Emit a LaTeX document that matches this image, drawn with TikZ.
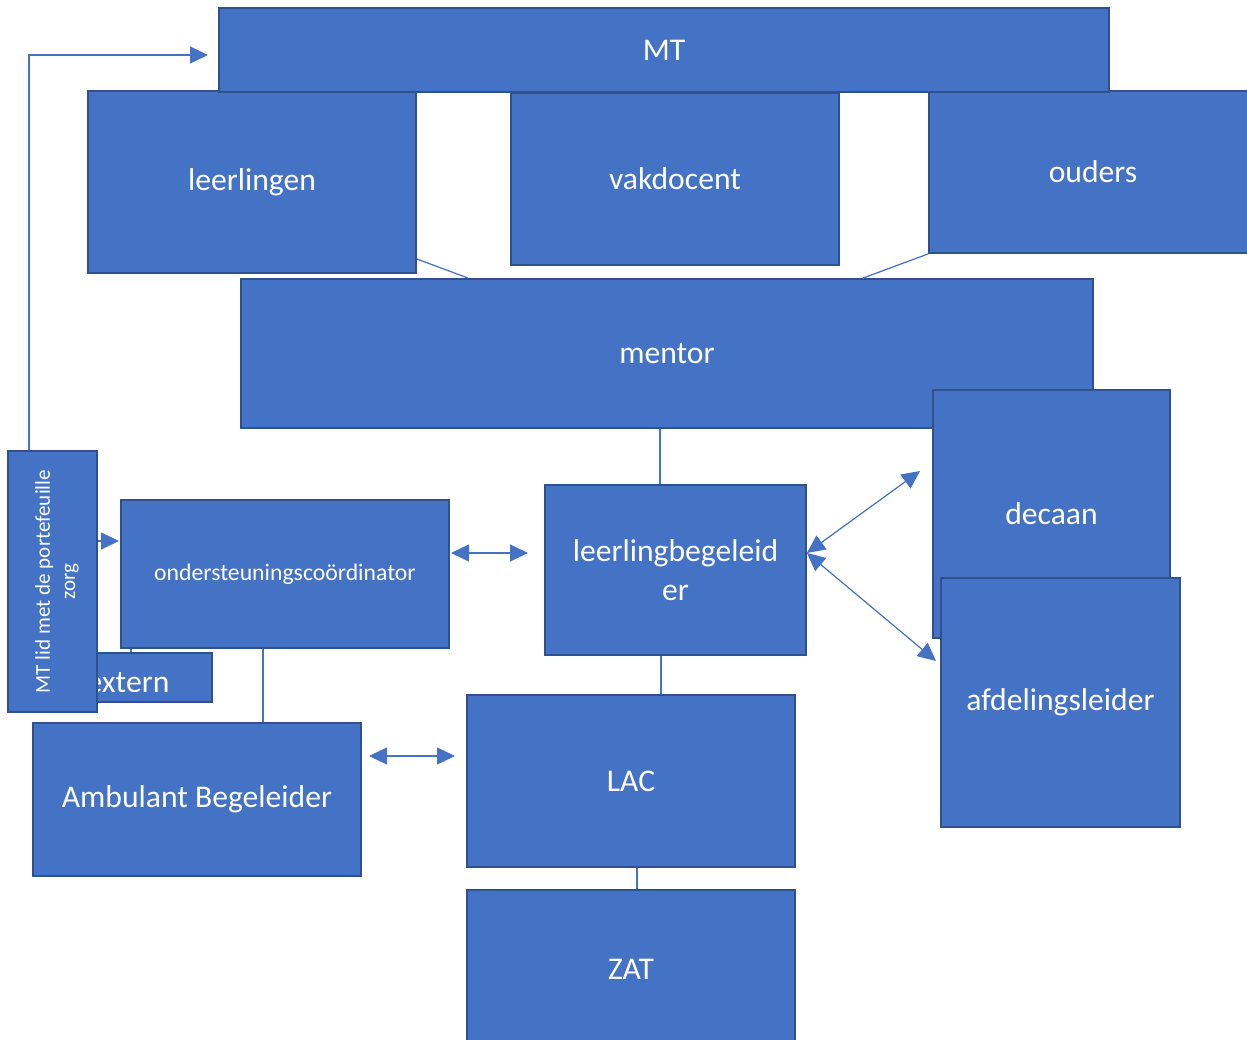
\documentclass[tikz,border=0pt]{standalone}
\usepackage{fontspec}
\setmainfont{Carlito}
\usetikzlibrary{arrows.meta}
\definecolor{blokblauw}{HTML}{4472C4}
\definecolor{blokrand}{HTML}{2F528F}
\tikzset{
  blok/.style={draw=blokrand, fill=blokblauw, line width=1.1pt, text=white,
    font=\fontsize{18}{22}\selectfont, inner sep=0pt},
  lijn/.style={draw=blokblauw, line width=0.7pt},
  pijl/.style={lijn, -{Triangle[length=0.36cm,width=0.34cm]}},
  dubbel/.style={lijn, {Triangle[length=0.36cm,width=0.34cm]}-{Triangle[length=0.36cm,width=0.34cm]}}
}
\begin{document}
\begin{tikzpicture}[x=0.02cm, y=-0.02cm]
    \useasboundingbox (0,0) rectangle (1247,1040);
    \node (leerlingen) at (252,182) [blok, minimum width=6.56cm, minimum height=3.64cm] {leerlingen};
    \node (vakdocent) at (675,179) [blok, minimum width=6.56cm, minimum height=3.44cm] {vakdocent};
    \node (ouders) at (1093,172) [blok, minimum width=6.56cm, minimum height=3.24cm] {ouders};
    \node (MT) at (664,50) [blok, minimum width=17.8cm, minimum height=1.68cm] {MT};
    \node (mentor) at (667,353.5) [blok, minimum width=17.04cm, minimum height=2.98cm] {mentor};
    \node (decaan) at (1051.5,514) [blok, minimum width=4.74cm, minimum height=4.96cm] {decaan};
    \node (afdeling) at (1060.5,702.5) [blok, minimum width=4.78cm, minimum height=4.98cm] {afdelingsleider};
    \node (lb) at (675.5,570) [blok, minimum width=5.22cm, minimum height=3.4cm, align=center] {leerlingbegeleid\\er};
    \node (osc) at (285,574) [blok, minimum width=6.56cm, minimum height=2.96cm, font=\fontsize{13.5}{16}\selectfont] {ondersteuningscoördinator};
    \node (extern) at (128.5,677.5) [blok, minimum width=3.34cm, minimum height=0.98cm] {};
    \begin{scope}
      \clip (60,655) rectangle (210,691);
      \node (externtekst) at (128,692) [anchor=base, text=white, font=\fontsize{18}{22}\selectfont, inner sep=0pt] {extern};
    \end{scope}
    \node (mtlid) at (52.5,581.5) [blok, minimum width=1.78cm, minimum height=5.22cm] {};
    \node (mtlidtekst) at (57,581.5) [rotate=90, align=center, text=white, font=\fontsize{12}{14.5}\selectfont] {MT lid met de portefeuille\\zorg};
    \node (ambulant) at (197,799.5) [blok, minimum width=6.56cm, minimum height=3.06cm] {Ambulant Begeleider};
    \node (LAC) at (631,781) [blok, minimum width=6.56cm, minimum height=3.44cm] {LAC};
    \node (ZAT) at (631,969) [blok, minimum width=6.56cm, minimum height=3.16cm] {ZAT};
    \coordinate (mtin) at (208,55);
    \coordinate (oscin) at (119,541);
    \coordinate (oscuit) at (451,553);
    \coordinate (lbin) at (528,553);
    \coordinate (ambuit) at (369,756);
    \coordinate (lacin) at (455,756);
    \coordinate (naardecaan) at (920,471);
    \coordinate (naarafdeling) at (936,661);
    % verbindingen
    \draw[lijn] (leerlingen.east |- 0,259) -- (mentor.north -| 468,0);
    \draw[lijn] (ouders.south west) -- (mentor.north -| 863,0);
    \draw[lijn] (mentor.south -| 660,0) -- (lb.north -| 660,0);
    \draw[lijn] (lb.south -| 661,0) -- (LAC.north -| 661,0);
    \draw[lijn] (LAC.south -| 637,0) -- (ZAT.north -| 637,0);
    \draw[lijn] (osc.south -| 263,0) -- (ambulant.north -| 263,0);
    \draw[lijn] (osc.south -| 131,0) -- (extern.north -| 131,0);
    \draw[pijl] (mtlid.north -| 29,0) |- (mtin);
    \draw[pijl] (mtlid.east |- oscin) -- (oscin);
    \draw[dubbel] (oscuit) -- (lbin);
    \draw[dubbel] (ambuit) -- (lacin);
    \draw[dubbel] (lb.east |- 0,553) -- (naardecaan);
    \draw[dubbel] (lb.east |- 0,553) -- (naarafdeling);
\end{tikzpicture}
\end{document}
